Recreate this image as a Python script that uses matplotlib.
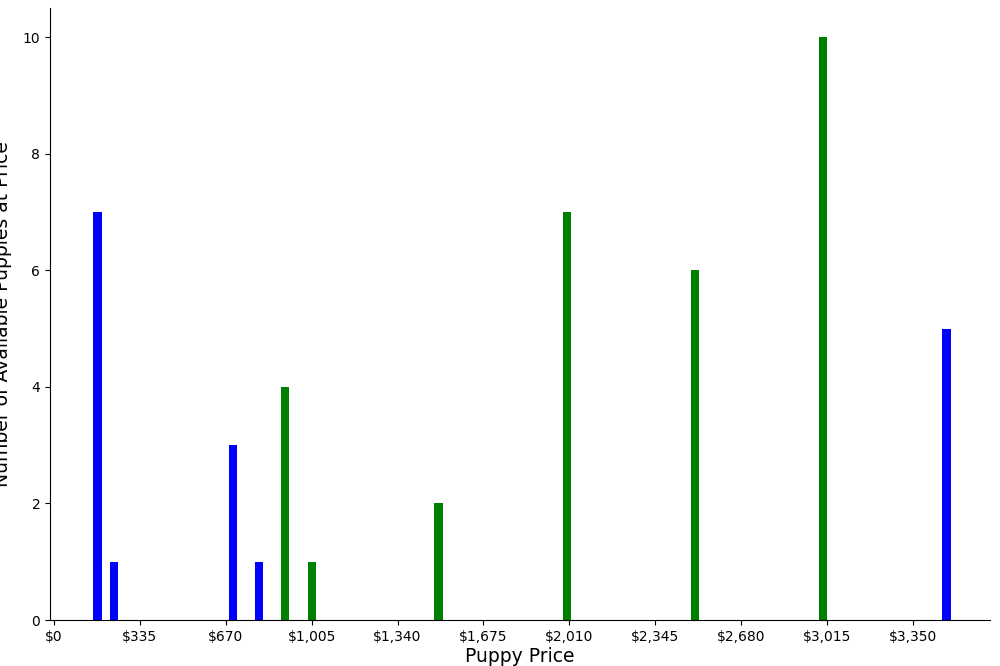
import matplotlib
matplotlib.use("Agg")
import matplotlib.pyplot as plt
import numpy as np

prices = [170, 235, 700, 800, 900, 1005, 1500, 2000, 2500, 3000, 3480]
counts = [7, 1, 3, 1, 4, 1, 2, 7, 6, 10, 5]
colors = ['blue', 'blue', 'blue', 'blue', 'green', 'green', 'green', 'green', 'green', 'green', 'blue']
ticks = list(range(0, 3351, 335))
tick_labels = [f"${t:,}" for t in ticks]

fig = plt.figure(figsize=(10, 6.66), dpi=100)
ax = fig.add_axes([0.05, 0.069, 0.94, 0.919])
ax.bar(prices, counts, width=32, color=colors)
ax.set_xticks(ticks)
ax.set_xticklabels(tick_labels, fontsize=10)
ax.tick_params(axis='y', labelsize=10)
ax.set_xlim(-15, 3650)
ax.set_ylim(0, 10.5)
ax.spines['top'].set_visible(False)
ax.spines['right'].set_visible(False)
ax.set_xlabel("Puppy Price", fontsize=13.5, labelpad=2)
ax.set_ylabel("Number of Available Puppies at Price", fontsize=13.5, labelpad=8)
fig.savefig("out.png")
